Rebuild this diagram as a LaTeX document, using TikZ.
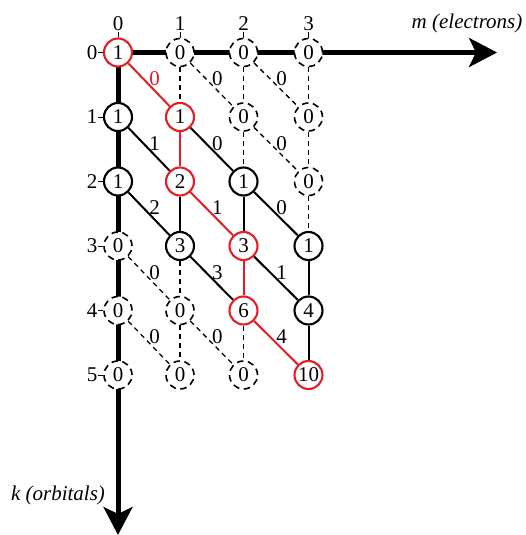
\documentclass[tikz,border=0pt]{standalone}
\usepackage{fontspec}
\setmainfont{Liberation Serif}
\newfontfamily\tms{Liberation Serif}
\usetikzlibrary{arrows.meta,backgrounds}
\definecolor{myred}{RGB}{228,30,36}
\begin{document}
\begin{tikzpicture}[x=1pt,y=-1pt,
  font=\tms\fontsize{21}{25}\selectfont,
  nd/.style={circle,draw,line width=2.1pt,minimum size=28pt,inner sep=0pt,fill=white},
  rn/.style={nd,draw=myred},
  dn/.style={nd,line width=1.6pt,dash pattern=on 6.5pt off 4.5pt},
  se/.style={line width=2pt},
  re/.style={line width=2pt,draw=myred},
  de/.style={line width=1.3pt,dash pattern=on 5pt off 4pt},
  ax/.style={line width=5pt},
  lab/.style={inner sep=0.5pt},
  tick/.style={line width=1pt},
  el/.style={inner sep=0pt,xshift=5.5pt,yshift=6pt},
  arr/.style={-{Stealth[length=28pt,width=29pt,inset=7pt]}},
]
\useasboundingbox (0,0) rectangle (525,535);
% nodes
\node[rn] (n00) at (118,52.5) {1};
\node[dn] (n01) at (180,52.5) {0};
\node[dn] (n02) at (243.5,52.5) {0};
\node[dn] (n03) at (308.5,52.5) {0};
\node[nd] (n10) at (118,117) {1};
\node[rn] (n11) at (180,117) {1};
\node[dn] (n12) at (243.5,117) {0};
\node[dn] (n13) at (308.5,117) {0};
\node[nd] (n20) at (118,181.5) {1};
\node[rn] (n21) at (180,181.5) {2};
\node[nd] (n22) at (243.5,181.5) {1};
\node[dn] (n23) at (308.5,181.5) {0};
\node[dn] (n30) at (118,246) {0};
\node[nd] (n31) at (180,246) {3};
\node[rn] (n32) at (243.5,246) {3};
\node[nd] (n33) at (308.5,246) {1};
\node[dn] (n40) at (118,310.5) {0};
\node[dn] (n41) at (180,310.5) {0};
\node[rn] (n42) at (243.5,310.5) {6};
\node[nd] (n43) at (308.5,310.5) {4};
\node[dn] (n50) at (118,375) {0};
\node[dn] (n51) at (180,375) {0};
\node[dn] (n52) at (243.5,375) {0};
\node[rn] (n53) at (308.5,375) {10};
% axes
\coordinate (mtip) at (497,52.5);
\coordinate (ktip) at (118,535);
\begin{scope}[on background layer]
\draw[ax,arr] (n00.center) -- (mtip);
\draw[ax,arr] (n00.center) -- (ktip);
\end{scope}
\node[anchor=base] (mlab) at (467,29) {\itshape m (electrons)};
\node[anchor=base] (klab) at (58,500) {\itshape k (orbitals)};
% column labels
\node[lab] (c0) at (118,24) {0};
\node[lab] (c1) at (180,24) {1};
\node[lab] (c2) at (243.5,24) {2};
\node[lab] (c3) at (308.5,24) {3};
\draw[tick] (c0) -- (n00);
\draw[tick] (c1) -- (n01);
\draw[tick] (c2) -- (n02);
\draw[tick] (c3) -- (n03);
% row labels
\node[lab] (r0) at (92,52.5) {0};
\node[lab] (r1) at (92,117) {1};
\node[lab] (r2) at (92,181.5) {2};
\node[lab] (r3) at (92,246) {3};
\node[lab] (r4) at (92,310.5) {4};
\node[lab] (r5) at (92,375) {5};
\draw[tick] (r0) -- (n00);
\draw[tick] (r1) -- (n10);
\draw[tick] (r2) -- (n20);
\draw[tick] (r3) -- (n30);
\draw[tick] (r4) -- (n40);
\draw[tick] (r5) -- (n50);
% verticals
\draw[de] (n01) -- (n11);
\draw[re] (n11) -- (n21);
\draw[se] (n21) -- (n31);
\draw[de] (n31) -- (n41);
\draw[de] (n41) -- (n51);
\draw[de] (n02) -- (n12);
\draw[de] (n12) -- (n22);
\draw[se] (n22) -- (n32);
\draw[re] (n32) -- (n42);
\draw[de] (n42) -- (n52);
\draw[de] (n03) -- (n13);
\draw[de] (n13) -- (n23);
\draw[de] (n23) -- (n33);
\draw[se] (n33) -- (n43);
\draw[se] (n43) -- (n53);
% diagonals
\draw[re] (n00) -- node[el,text=myred]{0} (n11);
\draw[de] (n01) -- node[el]{0} (n12);
\draw[de] (n02) -- node[el]{0} (n13);
\draw[se] (n10) -- node[el]{1} (n21);
\draw[se] (n11) -- node[el]{0} (n22);
\draw[de] (n12) -- node[el]{0} (n23);
\draw[se] (n20) -- node[el]{2} (n31);
\draw[re] (n21) -- node[el]{1} (n32);
\draw[se] (n22) -- node[el]{0} (n33);
\draw[de] (n30) -- node[el]{0} (n41);
\draw[se] (n31) -- node[el]{3} (n42);
\draw[se] (n32) -- node[el]{1} (n43);
\draw[de] (n40) -- node[el]{0} (n51);
\draw[de] (n41) -- node[el]{0} (n52);
\draw[re] (n42) -- node[el]{4} (n53);
\end{tikzpicture}
\end{document}
